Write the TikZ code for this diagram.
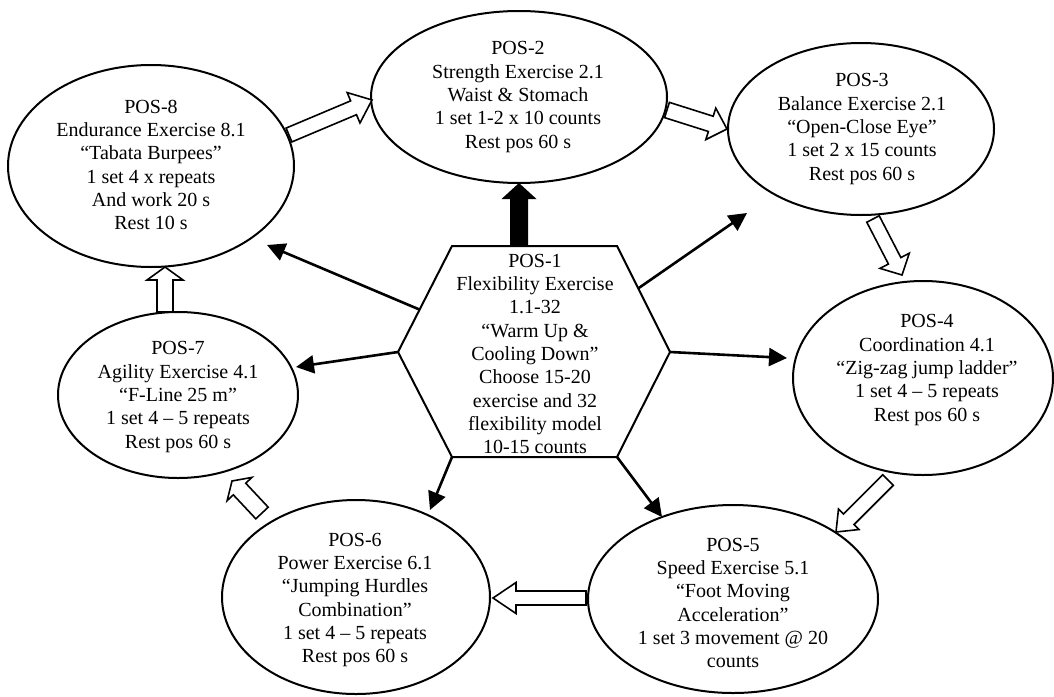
\documentclass[tikz,border=0pt]{standalone}
\usepackage{fontspec}
\setmainfont{Liberation Serif}
\usetikzlibrary{shapes.geometric,calc,arrows.meta}
\tikzset{
  posbox/.style={ellipse, draw, line width=1pt, inner sep=0pt, outer sep=0pt},
  txt/.style={align=center, inner sep=0pt, font=\fontsize{10}{11.65}\selectfont},
  thinarrow/.style={line width=1.3pt, -{Triangle[length=9pt,width=9pt]}},
  hollow/.style={draw, fill=white, line width=0.8pt, line join=miter},
  heavy/.style={fill=black},
}
% style, from, to, half shaft, half head, head length
\newcommand{\blockarr}[6]{%
  \coordinate (ba-a) at #2;
  \coordinate (ba-b) at #3;
  \coordinate (ba-h) at ($(ba-b)!#6!(ba-a)$);
  \path[#1] ($(ba-a)!#4!90:(ba-b)$) -- ($(ba-h)!#4!90:(ba-b)$) -- ($(ba-h)!#5!90:(ba-b)$) -- (ba-b) -- ($(ba-h)!#5!-90:(ba-b)$) -- ($(ba-h)!#4!-90:(ba-b)$) -- ($(ba-a)!#4!-90:(ba-b)$) -- cycle;
}
\begin{document}
\begin{tikzpicture}[x=0.5pt,y=-0.5pt]
\useasboundingbox (0,0) rectangle (1054,696);

% ellipses
\node[posbox, minimum width=148pt, minimum height=86pt] (p2) at (519,97) {};
\node[posbox, minimum width=133pt, minimum height=86pt] (p3) at (861,129) {};
\node[posbox, minimum width=130pt, minimum height=97pt] (p4) at (923,378) {};
\node[posbox, minimum width=145pt, minimum height=94pt] (p5) at (733,599) {};
\node[posbox, minimum width=134pt, minimum height=97pt] (p6) at (356,597) {};
\node[posbox, minimum width=120pt, minimum height=83pt] (p7) at (178,395) {};
\node[posbox, minimum width=143pt, minimum height=101pt] (p8) at (151,166) {};

% texts
\node[txt] (t2) at (518,97) {POS-2\\Strength Exercise 2.1\\Waist \& Stomach\\1 set 1-2 x 10 counts\\Rest pos 60 s};
\node[txt] (t3) at (862,129) {POS-3\\Balance Exercise 2.1\\“Open-Close Eye”\\1 set 2 x 15 counts\\Rest pos 60 s};
\node[txt] (t4) at (927,370) {POS-4\\Coordination 4.1\\“Zig-zag jump ladder”\\1 set 4 – 5 repeats\\Rest pos 60 s};
\node[txt] (t5) at (733,603) {POS-5\\Speed Exercise 5.1\\“Foot Moving\\Acceleration”\\1 set 3 movement @ 20\\counts};
\node[txt] (t6) at (355,600) {POS-6\\Power Exercise 6.1\\“Jumping Hurdles\\Combination”\\1 set 4 – 5 repeats\\Rest pos 60 s};
\node[txt] (t7) at (178,397) {POS-7\\Agility Exercise 4.1\\“F-Line 25 m”\\1 set 4 – 5 repeats\\Rest pos 60 s};
\node[txt] (t8) at (151,165) {POS-8\\Endurance Exercise 8.1\\“Tabata Burpees”\\1 set 4 x repeats\\And work 20 s\\Rest 10 s};

% hexagon
\coordinate (hTL) at (452,246);
\coordinate (hTR) at (617,246);
\coordinate (hR)  at (670,352);
\coordinate (hBR) at (617,457);
\coordinate (hBL) at (452,457);
\coordinate (hL)  at (398,352);
\draw[line width=1pt, line join=miter] (hTL) -- (hTR) -- (hR) -- (hBR) -- (hBL) -- (hL) -- cycle;
\node[txt] (p1) at (535,354) {POS-1\\Flexibility Exercise\\1.1-32\\“Warm Up \&\\Cooling Down”\\Choose 15-20\\exercise and 32\\flexibility model\\10-15 counts};

% thin arrows from POS-1
\draw[thinarrow] ($(hL)!0.4!(hTL)$) -- ([shift={(116,79)}]p8.center);
\draw[thinarrow] (hL) -- ([shift={(118,-28)}]p7.center);
\draw[thinarrow] ($(hTR)!0.4!(hR)$) -- ([shift={(-114,84)}]p3.center);
\draw[thinarrow] (hR) -- ([shift={(-136,-20)}]p4.center);
\draw[thinarrow] (hBL) -- ([shift={(74,-87)}]p6.center);
\draw[thinarrow] (hBR) -- ([shift={(-71,-82)}]p5.center);

% heavy arrow to POS-2
\blockarr{heavy}{(p2.south |- hTL)}{(p2.south)}{4.5pt}{8.75pt}{8pt}

% hollow block arrows around the cycle
\blockarr{hollow}{([shift={(138,-31)}]p8.center)}{([shift={(-147,3)}]p2.center)}{3.75pt}{8.25pt}{10pt}
\blockarr{hollow}{([shift={(148,13)}]p2.center)}{([shift={(-134,0)}]p3.center)}{4pt}{8.25pt}{8.5pt}
\blockarr{hollow}{([shift={(12,90)}]p3.center)}{([shift={(-21,-103)}]p4.center)}{3.5pt}{8.25pt}{8pt}
\blockarr{hollow}{([shift={(-35,102)}]p4.center)}{([shift={(103,-67)}]p5.center)}{3.75pt}{7.25pt}{9pt}
\blockarr{hollow}{([shift={(-147,-1)}]p5.center)}{([shift={(137,1)}]p6.center)}{3.5pt}{7.75pt}{11.5pt}
\blockarr{hollow}{([shift={(-94,-84)}]p6.center)}{([shift={(54,86)}]p7.center)}{4.25pt}{8.5pt}{5.5pt}
\blockarr{hollow}{([shift={(-13,-83)}]p7.center)}{([shift={(14,101)}]p8.center)}{4pt}{9pt}{6.5pt}
\end{tikzpicture}
\end{document}
